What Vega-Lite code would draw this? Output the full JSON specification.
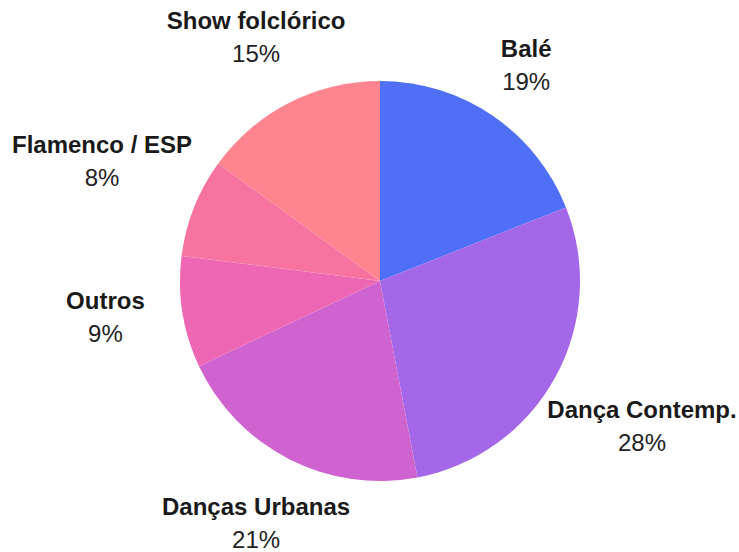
{
  "$schema": "https://vega.github.io/schema/vega-lite/v6.json",
  "width": 718,
  "height": 542,
  "autosize": {"type": "none"},
  "padding": {"left": 21, "top": 10, "right": 0, "bottom": 0},
  "background": "white",
  "view": {"stroke": null},
  "data": {
    "values": [
      {"cat": "Balé", "share": 0.19, "rank": 1},
      {"cat": "Dança Contemp.", "share": 0.28, "rank": 2},
      {"cat": "Danças Urbanas", "share": 0.21, "rank": 3},
      {"cat": "Outros", "share": 0.09, "rank": 4},
      {"cat": "Flamenco / ESP", "share": 0.08, "rank": 5},
      {"cat": "Show folclórico", "share": 0.15, "rank": 6}
    ]
  },
  "transform": [
    {"stack": "share", "groupby": [], "sort": [{"field": "rank", "order": "ascending"}], "as": ["s0", "s1"]},
    {"calculate": "(datum.s0 + datum.s1) / 2", "as": "smid"}
  ],
  "layer": [
    {
      "mark": {"type": "arc", "outerRadius": 200, "strokeWidth": 0},
      "encoding": {
        "theta": {"field": "s0", "type": "quantitative", "scale": {"domain": [0, 1]}},
        "theta2": {"field": "s1"},
        "color": {
          "field": "cat",
          "type": "nominal",
          "legend": null,
          "scale": {
            "domain": ["Balé", "Dança Contemp.", "Danças Urbanas", "Outros", "Flamenco / ESP", "Show folclórico"],
            "range": ["#4f6ff7", "#a467e7", "#cf64d0", "#ee67b4", "#f874a0", "#fe8590"]
          }
        }
      }
    },
    {
      "transform": [{"filter": {"field": "cat", "oneOf": ["Balé"]}}],
      "encoding": {"theta": {"field": "smid", "type": "quantitative", "scale": {"domain": [0, 1]}}},
      "layer": [
        {"mark": {"type": "text", "radius": 260, "font": "Liberation Sans", "fontSize": 24, "fontWeight": "bold", "fill": "#1a1a1a", "baseline": "middle", "dy": -16}, "encoding": {"text": {"field": "cat"}}},
        {"mark": {"type": "text", "radius": 260, "font": "Liberation Sans", "fontSize": 24, "fill": "#222222", "baseline": "middle", "dy": 17}, "encoding": {"text": {"field": "share", "type": "quantitative", "format": ".0%"}}}
      ]
    },
    {
      "transform": [{"filter": {"field": "cat", "oneOf": ["Danças Urbanas", "Show folclórico"]}}],
      "encoding": {"theta": {"field": "smid", "type": "quantitative", "scale": {"domain": [0, 1]}}},
      "layer": [
        {"mark": {"type": "text", "radius": 273, "font": "Liberation Sans", "fontSize": 24, "fontWeight": "bold", "fill": "#1a1a1a", "baseline": "middle", "dy": -16}, "encoding": {"text": {"field": "cat"}}},
        {"mark": {"type": "text", "radius": 273, "font": "Liberation Sans", "fontSize": 24, "fill": "#222222", "baseline": "middle", "dy": 17}, "encoding": {"text": {"field": "share", "type": "quantitative", "format": ".0%"}}}
      ]
    },
    {
      "transform": [{"filter": {"field": "cat", "oneOf": ["Outros"]}}],
      "encoding": {"theta": {"field": "smid", "type": "quantitative", "scale": {"domain": [0, 1]}}},
      "layer": [
        {"mark": {"type": "text", "radius": 278, "font": "Liberation Sans", "fontSize": 24, "fontWeight": "bold", "fill": "#1a1a1a", "baseline": "middle", "dy": -22}, "encoding": {"text": {"field": "cat"}}},
        {"mark": {"type": "text", "radius": 278, "font": "Liberation Sans", "fontSize": 24, "fill": "#222222", "baseline": "middle", "dy": 11}, "encoding": {"text": {"field": "share", "type": "quantitative", "format": ".0%"}}}
      ]
    },
    {
      "transform": [{"filter": {"field": "cat", "oneOf": ["Flamenco / ESP"]}}],
      "encoding": {"theta": {"field": "smid", "type": "quantitative", "scale": {"domain": [0, 1]}}},
      "layer": [
        {"mark": {"type": "text", "radius": 299, "font": "Liberation Sans", "fontSize": 24, "fontWeight": "bold", "fill": "#1a1a1a", "baseline": "middle", "dy": -25}, "encoding": {"text": {"field": "cat"}}},
        {"mark": {"type": "text", "radius": 299, "font": "Liberation Sans", "fontSize": 24, "fill": "#222222", "baseline": "middle", "dy": 8}, "encoding": {"text": {"field": "share", "type": "quantitative", "format": ".0%"}}}
      ]
    },
    {
      "transform": [{"filter": {"field": "cat", "oneOf": ["Dança Contemp."]}}],
      "encoding": {"theta": {"field": "smid", "type": "quantitative", "scale": {"domain": [0, 1]}}},
      "layer": [
        {"mark": {"type": "text", "radius": 299, "font": "Liberation Sans", "fontSize": 24, "fontWeight": "bold", "fill": "#1a1a1a", "baseline": "middle", "dy": -14}, "encoding": {"text": {"field": "cat"}}},
        {"mark": {"type": "text", "radius": 299, "font": "Liberation Sans", "fontSize": 24, "fill": "#222222", "baseline": "middle", "dy": 19}, "encoding": {"text": {"field": "share", "type": "quantitative", "format": ".0%"}}}
      ]
    }
  ]
}
